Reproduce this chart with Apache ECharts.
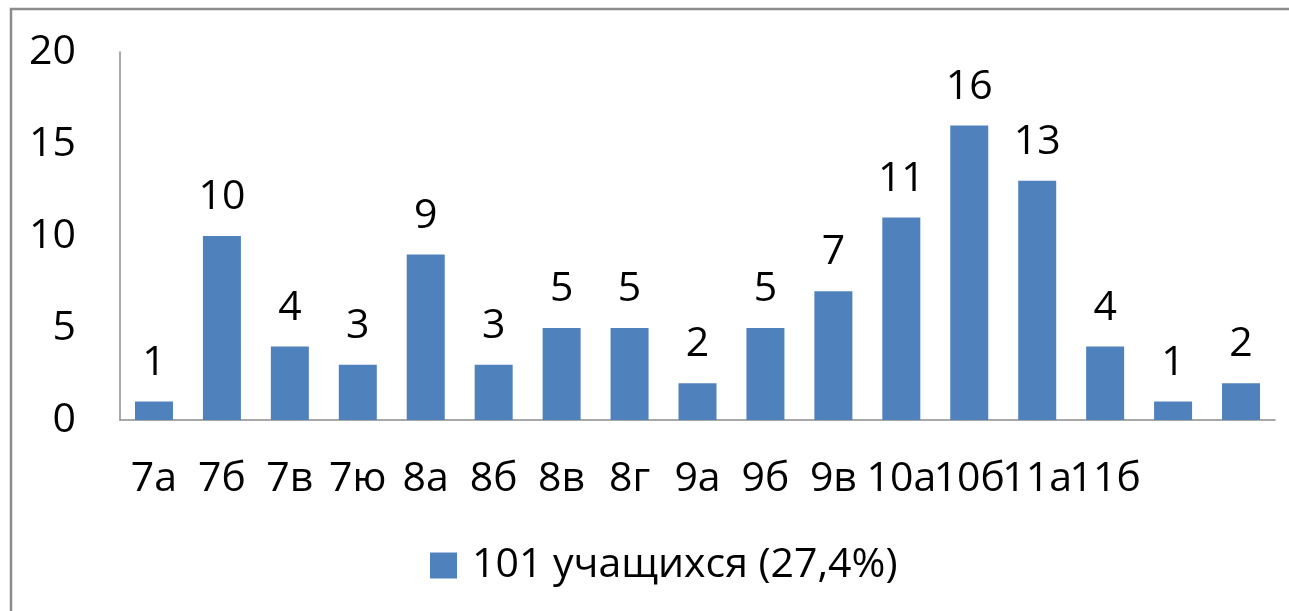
<!DOCTYPE html>
<html>
<head>
<meta charset="utf-8">
<script src="https://cdn.jsdelivr.net/npm/echarts@6/dist/echarts.min.js"></script>
<style>
  html, body { margin: 0; padding: 0; background: #fff; }
  #chart { width: 1289px; height: 611px; }
</style>
</head>
<body>
<div id="chart"></div>
<script>
var categories = ['7а', '7б', '7в', '7ю', '8а', '8б', '8в', '8г', '9а', '9б', '9в', '10а', '10б', '11а', '11б', '', ''];
var values = [1, 10, 4, 3, 9, 3, 5, 5, 2, 5, 7, 11, 16, 13, 4, 1, 2];
var seriesName = '101 учащихся (27,4%)';

var chart = echarts.init(document.getElementById('chart'));
var font = '"Open Sans", "Noto Sans", sans-serif';

var option = {
  animation: false,
  graphic: [{
    type: 'rect',
    shape: { x: 11, y: 9, width: 1400, height: 700 },
    style: { fill: 'none', stroke: '#8c8c8c', lineWidth: 2.5 },
    silent: true
  }],
  grid: {
    left: 120,
    right: 14,
    top: 52,
    bottom: 191
  },
  legend: {
    left: 425,
    top: 540,
    icon: 'rect',
    itemWidth: 27,
    itemHeight: 26,
    textStyle: {
      color: '#000',
      fontSize: 41,
      fontFamily: font,
      padding: [0, 0, 0, 10]
    },
    data: [seriesName]
  },
  xAxis: {
    type: 'category',
    data: categories,
    axisLine: { lineStyle: { color: '#8c8c8c', width: 1.5 } },
    axisTick: { show: false },
    axisLabel: {
      interval: 0,
      margin: 39,
      color: '#000',
      fontSize: 41,
      fontFamily: font
    }
  },
  yAxis: {
    type: 'value',
    min: 0,
    max: 20,
    interval: 5,
    splitLine: { show: false },
    axisLine: { show: true, lineStyle: { color: '#8c8c8c', width: 1.5 } },
    axisTick: { show: false },
    axisLabel: {
      margin: 44,
      color: '#000',
      fontSize: 41,
      fontFamily: font
    }
  },
  series: [{
    name: seriesName,
    type: 'bar',
    data: values,
    barWidth: 38,
    itemStyle: { color: '#4f81bd' },
    label: {
      show: true,
      position: 'top',
      distance: 18,
      color: '#000',
      fontSize: 41,
      fontFamily: font
    }
  }]
};

chart.setOption(option);
</script>
</body>
</html>
